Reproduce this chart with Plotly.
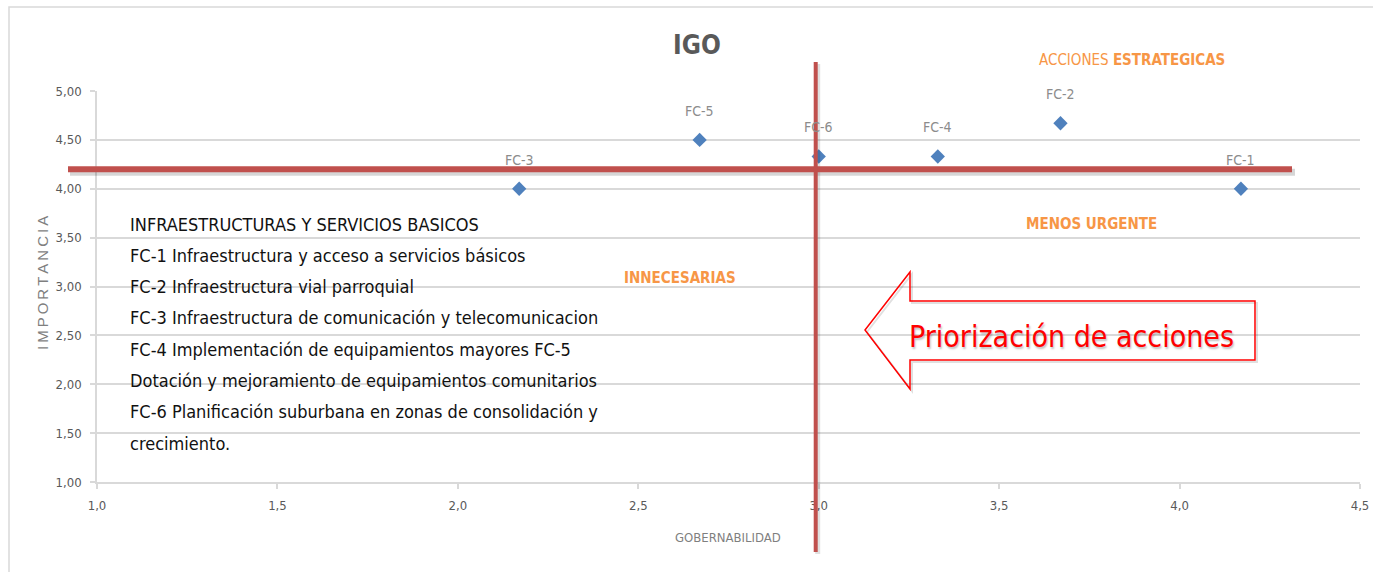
import plotly.graph_objects as go

# Factores críticos: gobernabilidad (x) e importancia (y)
codes = ["FC-1", "FC-2", "FC-3", "FC-4", "FC-5", "FC-6"]
gobernabilidad = [4.17, 3.67, 2.17, 3.33, 2.67, 3.00]
importancia = [4.00, 4.67, 4.00, 4.33, 4.50, 4.33]

# Umbrales que separan los cuadrantes
umbral_gob = 3.0
umbral_imp = 4.2

x_ticks = [1.0, 1.5, 2.0, 2.5, 3.0, 3.5, 4.0, 4.5]
y_ticks = [1.0, 1.5, 2.0, 2.5, 3.0, 3.5, 4.0, 4.5, 5.0]

leyenda = [
    "INFRAESTRUCTURAS Y SERVICIOS BASICOS",
    "FC-1 Infraestructura y acceso a servicios básicos",
    "FC-2 Infraestructura vial parroquial",
    "FC-3 Infraestructura de comunicación y telecomunicacion",
    "FC-4 Implementación de equipamientos mayores FC-5",
    "Dotación y mejoramiento de equipamientos comunitarios",
    "FC-6 Planificación suburbana en zonas de consolidación y",
    "crecimiento.",
]

W, H = 1373, 572
L, R, T, B = 97, 13, 91, 90
NARROW = "DejaVu Sans Condensed, Liberation Sans, sans-serif"
GRID = "#D9D9D9"
TXT = "#595959"
ORANGE = "#F79646"
RED_LINE = "#C0504D"


def pxx(v):
    return (v - L) / (W - L - R)


def pxy(v):
    return (H - B - v) / (H - T - B)


def nota(x, y, text, size, color, family=NARROW, xanchor="center", **kw):
    return dict(x=pxx(x), y=pxy(y), xref="paper", yref="paper", text=text,
                showarrow=False, xanchor=xanchor, yanchor="middle",
                font=dict(family=family, size=size, color=color), **kw)


fig = go.Figure()
fig.add_trace(go.Scatter(
    x=gobernabilidad, y=importancia, mode="markers",
    marker=dict(symbol="diamond", size=11, color="#4F81BD"),
    hoverinfo="x+y", showlegend=False,
))

annotations = []
# Etiquetas de cada factor sobre su marcador
for c, gx, iy in zip(codes, gobernabilidad, importancia):
    annotations.append(dict(
        x=gx, y=iy, xref="x", yref="y", text=c, showarrow=False,
        xanchor="center", yanchor="middle", yshift=29,
        font=dict(family=NARROW, size=14, color="#8C8C8C"),
    ))

# Título
annotations.append(nota(697, 45, "<b>IGO</b>", 26, TXT))

# Nombres de los cuadrantes
annotations += [
    nota(1132, 60, "ACCIONES <b>ESTRATEGICAS</b>", 15, ORANGE),
    nota(1091, 224, "<b>MENOS URGENTE</b>", 15, ORANGE),
    nota(680, 278, "<b>INNECESARIAS</b>", 15, ORANGE),
]

# Bloque descriptivo de los factores
for i, linea in enumerate(leyenda):
    annotations.append(nota(128, 224 + i * 31.3, linea, 18, "#111111", xanchor="left"))

# Texto de la flecha
annotations.append(dict(
    x=pxx(1071), y=pxy(336), xref="paper", yref="paper",
    text="Priorización de acciones", showarrow=False,
    xanchor="center", yanchor="middle",
    font=dict(family=NARROW, size=30, color="#FF0000",
              shadow="1px 2px 2px rgba(0,0,0,0.25)"),
))

# Títulos de ejes
annotations += [
    nota(42, 283, "\u2009".join("IMPORTANCIA"), 15, "#7F7F7F",
         family="Liberation Sans, Arial, sans-serif", textangle=-90),
    nota(728, 537, "GOBERNABILIDAD", 13, "#7F7F7F"),
]

shapes = [
    # Marco exterior
    dict(type="rect", xref="paper", yref="paper",
         x0=pxx(9), x1=pxx(1400), y0=pxy(7), y1=pxy(600),
         line=dict(color=GRID, width=1.5), layer="below"),
    # Sombras de las líneas de umbral
    dict(type="line", xref="paper", yref="y", ysizemode="pixel", yanchor=umbral_imp,
         x0=pxx(70), x1=pxx(1295), y0=-3, y1=-3,
         line=dict(color="rgba(0,0,0,0.16)", width=7)),
    dict(type="line", xref="x", yref="paper", xsizemode="pixel", xanchor=umbral_gob,
         x0=-1, x1=-1, y0=pxy(64), y1=pxy(554),
         line=dict(color="rgba(0,0,0,0.12)", width=5)),
    # Líneas de umbral
    dict(type="line", xref="paper", yref="y",
         x0=pxx(68), x1=pxx(1292), y0=umbral_imp, y1=umbral_imp,
         line=dict(color=RED_LINE, width=6)),
    dict(type="line", xref="x", yref="paper", xsizemode="pixel", xanchor=umbral_gob,
         x0=-3, x1=-3, y0=pxy(62), y1=pxy(552),
         line=dict(color=RED_LINE, width=4)),
]

# Flecha de priorización (contorno)
flecha = [(865, 330), (910, 272), (910, 301), (1255, 301),
          (1255, 360), (910, 360), (910, 389)]


def trazo(puntos, dx=0, dy=0):
    p = "M " + " L ".join(f"{pxx(x + dx):.5f},{pxy(y + dy):.5f}" for x, y in puntos)
    return p + " Z"


shapes.append(dict(type="path", xref="paper", yref="paper", path=trazo(flecha, 2, 2),
                   line=dict(color="rgba(0,0,0,0.12)", width=2)))
shapes.append(dict(type="path", xref="paper", yref="paper", path=trazo(flecha),
                   line=dict(color="#FF0000", width=1.5), fillcolor="rgba(255,255,255,0)"))

fig.update_layout(
    width=W, height=H,
    margin=dict(l=L, r=R, t=T, b=B),
    paper_bgcolor="white", plot_bgcolor="white",
    separators=",.",
    showlegend=False,
    annotations=annotations,
    shapes=shapes,
    xaxis=dict(
        range=[1.0, 4.5], tickvals=x_ticks, tickformat=".1f",
        showgrid=False, zeroline=False, automargin=False,
        showline=True, linecolor=GRID, linewidth=1.5,
        ticks="outside", ticklen=5, tickcolor=GRID, tickwidth=1.5,
        ticklabelstandoff=6,
        tickfont=dict(family=NARROW, size=13, color=TXT),
    ),
    yaxis=dict(
        range=[1.0, 5.0], tickvals=y_ticks, tickformat=".2f",
        showgrid=True, gridcolor=GRID, gridwidth=1.5, zeroline=False,
        automargin=False,
        showline=True, linecolor=GRID, linewidth=1.5,
        ticks="outside", ticklen=5, tickcolor=GRID, tickwidth=1.5,
        ticklabelstandoff=6,
        tickfont=dict(family=NARROW, size=13, color=TXT),
    ),
)

fig.write_html("out.html")
